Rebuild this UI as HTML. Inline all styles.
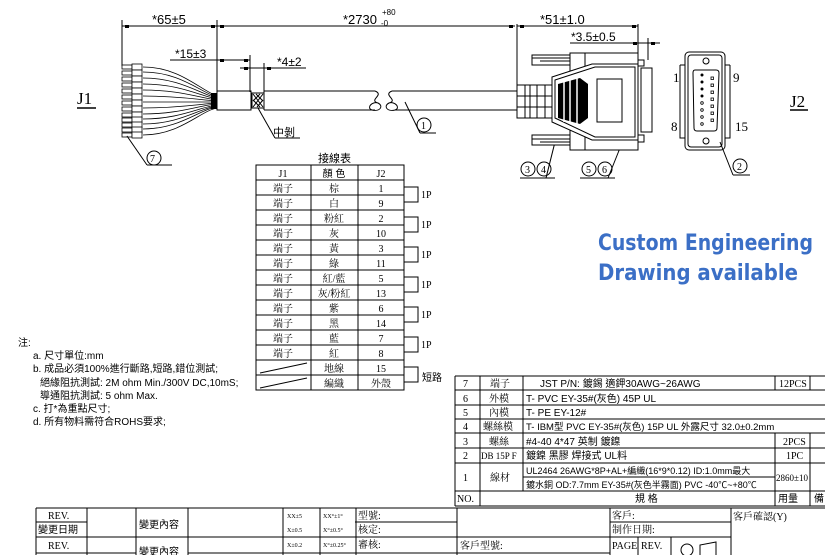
<!DOCTYPE html>
<html><head><meta charset="utf-8"><style>
html,body{margin:0;padding:0;background:#fff;}
svg{display:block;}
text{font-family:"Liberation Serif","Noto Serif CJK SC","Noto Sans CJK TC",serif;fill:#000;}
.s{font-family:"Liberation Sans","Noto Sans CJK TC",sans-serif;}
</style></head><body>
<svg width="825" height="555" viewBox="0 0 825 555" xmlns="http://www.w3.org/2000/svg" stroke-linecap="butt">
<g stroke="#000" stroke-width="1" fill="none">
<!-- dimension extension lines -->
<line x1="122" y1="20" x2="122" y2="66"/>
<line x1="217" y1="20" x2="217" y2="92"/>
<line x1="250" y1="55" x2="250" y2="92"/>
<line x1="264" y1="63" x2="264" y2="92"/>
<line x1="517" y1="24" x2="517" y2="86"/>
<line x1="638" y1="24" x2="638" y2="55"/>
<line x1="648" y1="38" x2="648" y2="60"/>
<!-- dimension lines -->
<line x1="122" y1="26" x2="515" y2="26"/>
<line x1="517" y1="26" x2="638" y2="26"/>
<line x1="217" y1="60" x2="250" y2="60"/>
<line x1="240" y1="68" x2="306" y2="68"/>
<line x1="175" y1="60" x2="217" y2="60"/>
<line x1="630" y1="43" x2="660" y2="43"/>
<line x1="570" y1="43" x2="630" y2="43"/>
<!-- underlines of dim texts -->
<line x1="170" y1="60" x2="210" y2="60"/>
</g>
<g fill="#000">
<rect x="125" y="25" width="4" height="3"/><rect x="211" y="25" width="4" height="3"/><rect x="220" y="25" width="4" height="3"/>
<rect x="509" y="25" width="4" height="3"/><rect x="520" y="25" width="4" height="3"/><rect x="632" y="25" width="4" height="3"/>
<rect x="220" y="59" width="4" height="3"/><rect x="244" y="59" width="4" height="3"/>
<rect x="244" y="67" width="4" height="3"/><rect x="267" y="67" width="4" height="3"/>
<rect x="633" y="42" width="4" height="3"/><rect x="651" y="42" width="4" height="3"/>
</g>
<text x="152" y="24" font-size="13" class="s">*65±5</text>
<text x="343" y="24" font-size="13" class="s">*2730</text>
<text x="381" y="26" font-size="8" class="s">-0</text>
<text x="382" y="15" font-size="8" class="s">+80</text>
<text x="540" y="24" font-size="13" class="s">*51±1.0</text>
<text x="571" y="41" font-size="12" class="s">*3.5±0.5</text>
<text x="175" y="58" font-size="12" class="s">*15±3</text>
<text x="277" y="66" font-size="12" class="s">*4±2</text>

<!-- J1 / J2 titles -->
<text x="77" y="104" font-size="17">J1</text><line x1="77" y1="108" x2="96" y2="108" stroke="#000" stroke-width="1.5"/>
<text x="790" y="107" font-size="17">J2</text><line x1="790" y1="110" x2="808" y2="110" stroke="#000" stroke-width="1.5"/>

<!-- wires fan -->
<g stroke="#000" stroke-width="0.8" fill="none">
<path d="M143 67 C180 67 200 90 217 96"/><path d="M143 72 C180 72 200 92 217 97"/>
<path d="M143 78 C180 78 200 94 217 98"/><path d="M143 84 C180 84 200 96 217 99"/>
<path d="M143 90 C180 90 200 98 217 100"/><path d="M143 96 C180 96 200 100 217 101"/>
<path d="M143 102 C180 102 200 102 217 102"/><path d="M143 108 C180 108 200 104 217 103"/>
<path d="M143 114 C180 114 200 105 217 104"/><path d="M143 119 C180 119 200 107 217 105"/>
<path d="M143 124 C180 124 200 108 217 106"/><path d="M143 129 C180 129 200 109 217 107"/>
<path d="M143 135 C180 135 200 111 217 108"/>
</g>
<g stroke="#000" stroke-width="0.8" fill="#fff">
<rect x="122" y="65" width="10" height="4"/><rect x="132" y="64" width="10" height="6"/>
<rect x="122" y="71" width="10" height="4"/><rect x="132" y="70" width="10" height="6"/>
<rect x="122" y="77" width="10" height="4"/><rect x="132" y="76" width="10" height="6"/>
<rect x="122" y="83" width="10" height="4"/><rect x="132" y="82" width="10" height="6"/>
<rect x="122" y="89" width="10" height="4"/><rect x="132" y="88" width="10" height="6"/>
<rect x="122" y="95" width="10" height="4"/><rect x="132" y="94" width="10" height="6"/>
<rect x="122" y="101" width="10" height="4"/><rect x="132" y="100" width="10" height="6"/>
<rect x="122" y="107" width="10" height="4"/><rect x="132" y="106" width="10" height="6"/>
<rect x="122" y="113" width="10" height="4"/><rect x="132" y="112" width="10" height="6"/>
<rect x="122" y="118" width="10" height="4"/><rect x="132" y="117" width="10" height="6"/>
<rect x="122" y="123" width="10" height="4"/><rect x="132" y="122" width="10" height="6"/>
<rect x="122" y="128" width="10" height="4"/><rect x="132" y="127" width="10" height="6"/>
<rect x="122" y="133" width="10" height="4"/><rect x="132" y="132" width="10" height="6"/>
</g>
<rect x="211" y="93" width="6" height="16" fill="#000"/>
<!-- cable -->
<g stroke="#000" stroke-width="1" fill="none">
<rect x="217" y="91" width="34" height="19"/>
<rect x="252" y="93" width="12" height="15"/>
<path d="M253 94 L263 107 M253 100 L260 107 M256 94 L263 101 M263 94 L253 107 M260 94 L253 101 M263 100 L257 107"/>
<path d="M264 91 L375 91 M264 110 L375 110 L264 110"/>
<line x1="264" y1="91" x2="264" y2="110"/>
<path d="M375 91 C385 95 368 100 378 103 C384 106 380 112 372 110 C366 108 372 101 378 103"/>
<path d="M392 91 C382 95 399 100 389 103 C383 106 387 112 395 110 C401 108 395 101 389 103"/>
<path d="M392 91 L517 91 M395 110 L517 110"/>
<!-- callouts -->
<line x1="127" y1="136" x2="147" y2="165"/><line x1="147" y1="165" x2="172" y2="165"/>
<circle cx="154" cy="158" r="7"/>
<line x1="258" y1="108" x2="275" y2="138"/><line x1="275" y1="138" x2="300" y2="138"/>
<line x1="405" y1="102" x2="420" y2="133"/><line x1="420" y1="133" x2="436" y2="133"/>
<circle cx="424" cy="125" r="7"/>
<line x1="555" y1="142" x2="546" y2="178"/><line x1="520" y1="178" x2="555" y2="178"/>
<circle cx="528" cy="169" r="7"/><circle cx="544" cy="169" r="7"/>
<line x1="620" y1="148" x2="608" y2="178"/><line x1="580" y1="178" x2="615" y2="178"/>
<circle cx="589" cy="169" r="7"/><circle cx="605" cy="169" r="7"/>
<line x1="720" y1="142" x2="733" y2="175"/><line x1="733" y1="175" x2="750" y2="175"/>
<circle cx="740" cy="166" r="7"/>
</g>
<text x="150" y="162" font-size="10">7</text>
<text x="273" y="136" font-size="11" class="s">中剝</text>
<text x="421" y="129" font-size="10">1</text>
<text x="525" y="173" font-size="10">3</text><text x="541" y="173" font-size="10">4</text>
<text x="586" y="173" font-size="10">5</text><text x="602" y="173" font-size="10">6</text>
<text x="737" y="170" font-size="10">2</text>

<!-- connector -->
<g stroke="#000" stroke-width="1" fill="#fff">
<rect x="532" y="55" width="38" height="10"/><line x1="532" y1="58" x2="570" y2="58"/><line x1="540" y1="61" x2="570" y2="61"/>
<rect x="532" y="135" width="38" height="10"/><line x1="532" y1="139" x2="570" y2="139"/><line x1="540" y1="142" x2="570" y2="142"/>
<rect x="570" y="53" width="68" height="97"/>
<line x1="585" y1="53" x2="585" y2="150"/>
<rect x="638" y="60" width="6" height="6"/><rect x="638" y="135" width="6" height="7"/>
<rect x="641" y="68" width="11" height="64"/>
<rect x="517" y="85" width="35" height="33"/>
<line x1="525" y1="85" x2="525" y2="118"/><line x1="530" y1="85" x2="530" y2="118"/><line x1="537" y1="85" x2="537" y2="118"/><line x1="545" y1="85" x2="545" y2="118"/>
<line x1="517" y1="96" x2="552" y2="96"/><line x1="517" y1="107" x2="552" y2="107"/>
<polygon points="552,77 592,64 638,64 638,140 592,140 552,122"/>
<polygon points="555,80 595,67 635,67 635,137 595,137 555,118"/>
<rect x="597" y="79" width="25" height="43"/>
</g>
<g fill="#000">
<polygon points="558,84 580,78 588,84 588,118 580,124 558,118"/>
</g>
<g stroke="#fff" stroke-width="1.5"><line x1="564" y1="80" x2="564" y2="122"/><line x1="570" y1="79" x2="570" y2="123"/><line x1="577" y1="78" x2="577" y2="124"/></g>

<!-- J2 face -->
<g stroke="#000" stroke-width="1" fill="none">
<path d="M680 65 L685 65 M680 65 L680 138 L685 138"/>
<path d="M730 65 L725 65 M730 65 L730 138 L725 138"/>
<rect x="685" y="52" width="40" height="98" rx="4"/>
<rect x="688" y="55" width="34" height="92" rx="3"/>
<path d="M695 70 L716 70 Q719 70 719 73 L717 128 Q717 131 714 131 L697 131 Q694 131 694 128 L693 73 Q693 70 695 70 Z"/>
<circle cx="706" cy="61" r="3"/><circle cx="706" cy="141" r="3"/>
</g>
<g fill="#000">
<circle cx="702" cy="75" r="1.5"/><circle cx="702" cy="82" r="1.5"/><circle cx="702" cy="89" r="1.5"/><circle cx="702" cy="96" r="1.5"/>
</g>
<g stroke="#000" stroke-width="0.8" fill="none">
<circle cx="702" cy="103" r="1.3"/><circle cx="702" cy="110" r="1.3"/><circle cx="702" cy="117" r="1.3"/><circle cx="702" cy="124" r="1.3"/>
<rect x="711" y="77" width="2.5" height="2.5"/><rect x="711" y="84" width="2.5" height="2.5"/><rect x="711" y="91" width="2.5" height="2.5"/><rect x="711" y="98" width="2.5" height="2.5"/><rect x="711" y="105" width="2.5" height="2.5"/><rect x="711" y="112" width="2.5" height="2.5"/><rect x="711" y="119" width="2.5" height="2.5"/>
</g>
<text x="673" y="82" font-size="13">1</text><text x="733" y="82" font-size="13">9</text>
<text x="671" y="131" font-size="13">8</text><text x="735" y="131" font-size="13">15</text>

<!-- wiring table -->
<text x="318" y="162" font-size="11" class="s">接線表</text>
<g stroke="#000" stroke-width="1" fill="none">
<rect x="256" y="165" width="148" height="225"/>
<line x1="311" y1="165" x2="311" y2="390"/><line x1="358" y1="165" x2="358" y2="390"/>
<line x1="256" y1="180" x2="404" y2="180"/><line x1="256" y1="195" x2="404" y2="195"/>
<line x1="256" y1="210" x2="404" y2="210"/><line x1="256" y1="225" x2="404" y2="225"/>
<line x1="256" y1="240" x2="404" y2="240"/><line x1="256" y1="255" x2="404" y2="255"/>
<line x1="256" y1="270" x2="404" y2="270"/><line x1="256" y1="285" x2="404" y2="285"/>
<line x1="256" y1="300" x2="404" y2="300"/><line x1="256" y1="315" x2="404" y2="315"/>
<line x1="256" y1="330" x2="404" y2="330"/><line x1="256" y1="345" x2="404" y2="345"/>
<line x1="256" y1="360" x2="404" y2="360"/><line x1="256" y1="375" x2="404" y2="375"/>
<line x1="260" y1="373" x2="307" y2="363"/><line x1="260" y1="388" x2="307" y2="378"/>
<path d="M404 187 H418 V202 H404"/><path d="M404 217 H418 V232 H404"/>
<path d="M404 247 H418 V262 H404"/><path d="M404 277 H418 V292 H404"/>
<path d="M404 307 H418 V322 H404"/><path d="M404 337 H418 V352 H404"/>
<path d="M404 367 H418 V382 H404"/>
</g>
<g font-size="10" text-anchor="middle">
<text x="283" y="177">J1</text><text x="334" y="177" class="s">顏 色</text><text x="381" y="177">J2</text>
<g class="s" font-size="10">
<text x="283" y="192">端子</text><text x="283" y="207">端子</text><text x="283" y="222">端子</text><text x="283" y="237">端子</text><text x="283" y="252">端子</text><text x="283" y="267">端子</text><text x="283" y="282">端子</text><text x="283" y="297">端子</text><text x="283" y="312">端子</text><text x="283" y="327">端子</text><text x="283" y="342">端子</text><text x="283" y="357">端子</text>
<text x="334" y="192">棕</text><text x="334" y="207">白</text><text x="334" y="222">粉紅</text><text x="334" y="237">灰</text><text x="334" y="252">黃</text><text x="334" y="267">綠</text><text x="334" y="282">紅/藍</text><text x="334" y="297">灰/粉紅</text><text x="334" y="312">紫</text><text x="334" y="327">黑</text><text x="334" y="342">藍</text><text x="334" y="357">紅</text><text x="334" y="372">地線</text><text x="334" y="387">編織</text>
<text x="381" y="387">外殼</text>
</g>
<text x="381" y="192">1</text><text x="381" y="207">9</text><text x="381" y="222">2</text><text x="381" y="237">10</text><text x="381" y="252">3</text><text x="381" y="267">11</text><text x="381" y="282">5</text><text x="381" y="297">13</text><text x="381" y="312">6</text><text x="381" y="327">14</text><text x="381" y="342">7</text><text x="381" y="357">8</text><text x="381" y="372">15</text>
</g>
<g font-size="10">
<text x="421" y="198">1P</text><text x="421" y="228">1P</text><text x="421" y="258">1P</text><text x="421" y="288">1P</text><text x="421" y="318">1P</text><text x="421" y="348">1P</text>
<text x="422" y="381" class="s">短路</text>
</g>

<!-- Custom Engineering -->
<g font-family="'DejaVu Sans','Liberation Sans',sans-serif" font-weight="bold" font-size="22" fill="#3b6fc6">
<text x="598" y="250" textLength="215" lengthAdjust="spacingAndGlyphs" style="fill:#3b6fc6;font-family:'DejaVu Sans',sans-serif">Custom Engineering</text>
<text x="598" y="280" textLength="200" lengthAdjust="spacingAndGlyphs" style="fill:#3b6fc6;font-family:'DejaVu Sans',sans-serif">Drawing available</text>
</g>

<!-- notes -->
<g font-size="10" class="s">
<text x="18" y="346" class="s">注:</text>
<text x="33" y="359" class="s">a. 尺寸單位:mm</text>
<text x="33" y="372" class="s">b. 成品必須100%進行斷路,短路,錯位測試;</text>
<text x="40" y="386" class="s">絕緣阻抗測試: 2M ohm Min./300V DC,10mS;</text>
<text x="40" y="399" class="s">導通阻抗測試: 5 ohm Max.</text>
<text x="33" y="412" class="s">c. 打*為重點尺寸;</text>
<text x="33" y="425" class="s">d. 所有物料需符合ROHS要求;</text>
</g>

<!-- BOM -->
<g stroke="#000" stroke-width="1" fill="none">
<line x1="455" y1="376" x2="825" y2="376"/>
<line x1="455" y1="390" x2="825" y2="390"/><line x1="455" y1="405" x2="825" y2="405"/>
<line x1="455" y1="419" x2="825" y2="419"/><line x1="455" y1="433" x2="825" y2="433"/>
<line x1="455" y1="448" x2="825" y2="448"/><line x1="455" y1="463" x2="825" y2="463"/>
<line x1="523" y1="477" x2="775" y2="477"/>
<line x1="455" y1="491" x2="825" y2="491"/><line x1="455" y1="506" x2="825" y2="506"/>
<line x1="455" y1="376" x2="455" y2="506"/><line x1="480" y1="376" x2="480" y2="506"/>
<line x1="523" y1="376" x2="523" y2="491"/>
<line x1="775" y1="376" x2="775" y2="390"/><line x1="775" y1="433" x2="775" y2="506"/>
<line x1="810" y1="376" x2="810" y2="390"/><line x1="810" y1="433" x2="810" y2="506"/>
</g>
<g font-size="10">
<text x="463" y="387">7</text><text x="463" y="402">6</text><text x="463" y="416">5</text><text x="463" y="430">4</text><text x="463" y="445">3</text><text x="463" y="459">2</text><text x="463" y="481">1</text><text x="457" y="502">NO.</text>
<g class="s"><text x="490" y="387">端子</text><text x="489" y="402">外模</text><text x="489" y="416">內模</text><text x="483" y="430">螺絲模</text><text x="489" y="445">螺絲</text><text x="490" y="481">線材</text></g>
<text x="481" y="459" font-size="9">DB 15P F</text>
<text x="540" y="387" class="s">JST P/N:            鍍錫 適鉀30AWG~26AWG</text>
<text x="526" y="402" class="s">T-  PVC EY-35#(灰色) 45P UL</text>
<text x="526" y="416" class="s">T-  PE EY-12#</text>
<text x="526" y="430" class="s" font-size="9.5">T-   IBM型 PVC  EY-35#(灰色) 15P UL 外露尺寸 32.0±0.2mm</text>
<text x="526" y="445" class="s">#4-40 4*47  英制 鍍鎳</text>
<text x="526" y="459" class="s">鍍鎳  黑膠  焊接式  UL料</text>
<text x="526" y="474" class="s" font-size="9" fill="#444">UL2464 26AWG*8P+AL+編織(16*9*0.12) ID:1.0mm最大</text>
<text x="526" y="488" class="s" font-size="9" fill="#444">鍍水銅 OD:7.7mm EY-35#(灰色半霧面) PVC -40℃~+80℃</text>
<text x="779" y="387">12PCS</text><text x="783" y="445">2PCS</text><text x="786" y="459">1PC</text><text x="776" y="481" font-size="9">2860±10</text>
<text x="635" y="502" class="s">規 格</text><text x="778" y="502" class="s">用量</text><text x="814" y="502" class="s">備</text>
</g>

<!-- title block -->
<g stroke="#000" stroke-width="1" fill="none">
<line x1="36" y1="508" x2="825" y2="508"/>
<line x1="36" y1="522" x2="87" y2="522"/><line x1="355" y1="522" x2="457" y2="522"/><line x1="610" y1="522" x2="731" y2="522"/>
<line x1="36" y1="537" x2="731" y2="537"/>
<line x1="36" y1="553" x2="136" y2="553"/><line x1="188" y1="553" x2="610" y2="553"/>
<line x1="36" y1="508" x2="36" y2="555"/><line x1="87" y1="508" x2="87" y2="555"/>
<line x1="136" y1="508" x2="136" y2="555"/><line x1="188" y1="508" x2="188" y2="555"/>
<line x1="283" y1="508" x2="283" y2="555"/><line x1="320" y1="508" x2="320" y2="555"/>
<line x1="356" y1="508" x2="356" y2="555"/><line x1="457" y1="508" x2="457" y2="555"/>
<line x1="610" y1="508" x2="610" y2="555"/><line x1="731" y1="508" x2="731" y2="555"/>
<line x1="638" y1="537" x2="638" y2="555"/><line x1="671" y1="537" x2="671" y2="555"/>
<circle cx="687" cy="550" r="6"/><path d="M700 555 V545 L716 542 V555"/>
</g>
<g font-size="10">
<text x="48" y="519">REV.</text><text x="38" y="533" class="s">變更日期</text><text x="48" y="549">REV.</text>
<text x="139" y="528" class="s">變更內容</text><text x="139" y="555" class="s">變更內容</text>
<g font-size="6"><text x="287" y="518">XX±5</text><text x="323" y="518">XX°±1°</text><text x="287" y="532">X±0.5</text><text x="323" y="532">X°±0.5°</text><text x="287" y="547">X±0.2</text><text x="323" y="547">X°±0.25°</text></g>
<g class="s"><text x="358" y="519">型號:</text><text x="358" y="533">核定:</text><text x="358" y="548">審核:</text>
<text x="460" y="549">客戶型號:</text>
<text x="612" y="519">客戶:</text><text x="612" y="533">制作日期:</text>
<text x="733" y="520">客戶確認(Y)</text></g>
<text x="612" y="549">PAGE</text><text x="641" y="549">REV.</text>
</g>
</svg>
</body></html>
